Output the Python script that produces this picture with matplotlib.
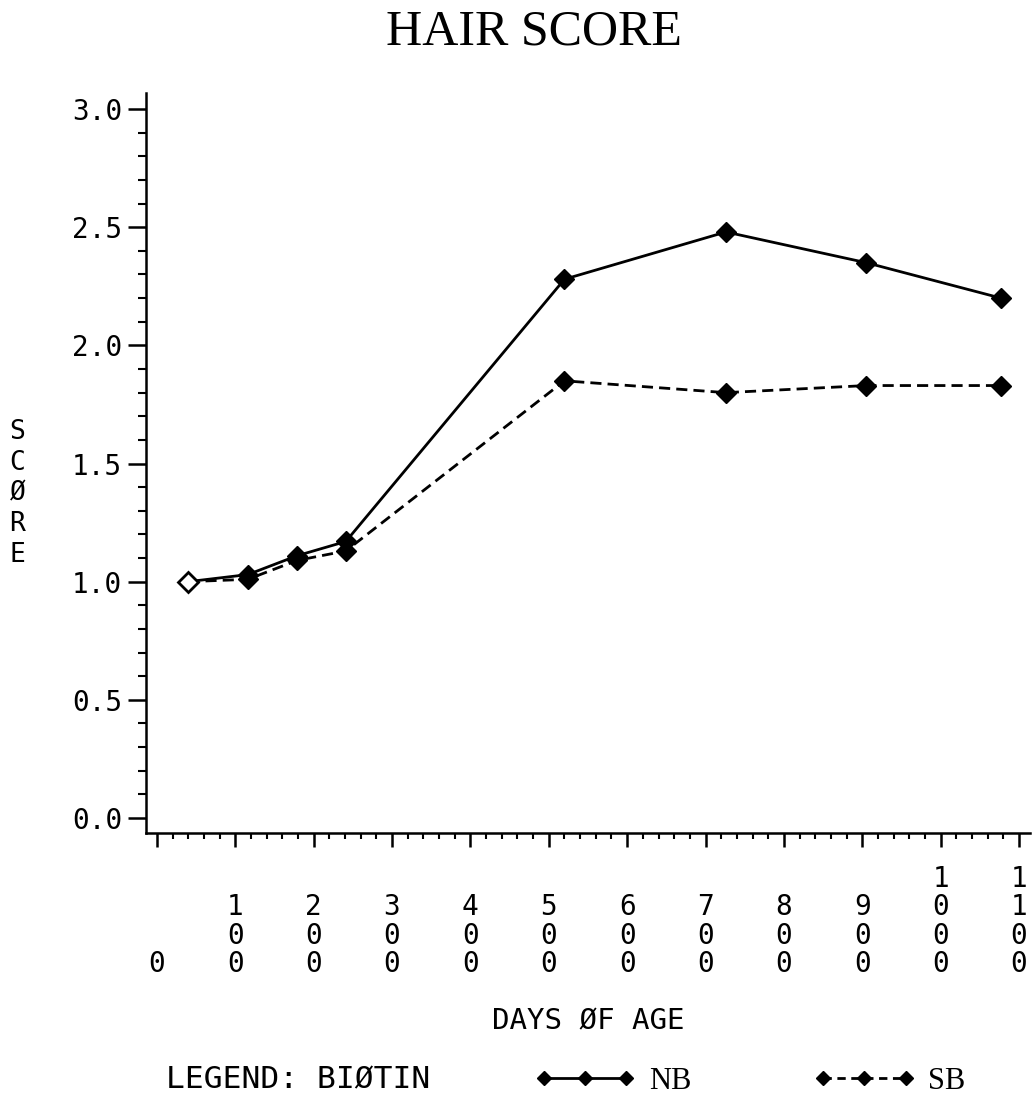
import matplotlib
matplotlib.use('Agg')
import matplotlib.pyplot as plt
from matplotlib.lines import Line2D
from matplotlib.ticker import MultipleLocator

# days of age and hair score
days = [40, 116, 179, 241, 520, 726, 905, 1077]
nb_score = [1.00, 1.03, 1.11, 1.17, 2.28, 2.48, 2.35, 2.20]
sb_score = [1.00, 1.01, 1.09, 1.13, 1.85, 1.80, 1.83, 1.83]

x_ticks = list(range(0, 1200, 100))
y_ticks = [0.0, 0.5, 1.0, 1.5, 2.0, 2.5, 3.0]

mono = 'DejaVu Sans Mono'
serif = 'Liberation Serif'


def stacked(v):
    # plotter style: one digit per line, bottom aligned
    s = str(v)
    return '\n' * (4 - len(s)) + '\n'.join(s)


fig = plt.figure(figsize=(10.33, 10.97), dpi=100)
ax = fig.add_axes([0.1413, 0.2407, 0.9971 - 0.1413, 0.9152 - 0.2407])

ax.plot(days, nb_score, color='black', lw=2.0, marker='D', ms=10, zorder=3)
ax.plot(days, sb_score, color='black', lw=2.0, ls=(0, (4, 2.2)), marker='D', ms=10, zorder=3)
# first point is drawn open in the original
ax.plot(days[:1], nb_score[:1], ls='none', marker='D', ms=10, mfc='white', mec='black', mew=2, zorder=4)

ax.set_xlim(-14, 1114)
ax.set_ylim(-0.0635, 3.068)

for s in ['top', 'right']:
    ax.spines[s].set_visible(False)
for s in ['left', 'bottom']:
    ax.spines[s].set_linewidth(1.8)

ax.set_xticks(x_ticks)
ax.set_xticklabels([stacked(v) for v in x_ticks], fontfamily=mono, fontsize=20, linespacing=1.02)
ax.xaxis.set_minor_locator(MultipleLocator(20))
ax.set_yticks(y_ticks)
ax.set_yticklabels(['%.1f' % v for v in y_ticks], fontfamily=mono, fontsize=20)
ax.yaxis.set_minor_locator(MultipleLocator(0.1))

ax.tick_params(axis='x', which='major', direction='out', length=10, width=1.8, pad=13)
ax.tick_params(axis='x', which='minor', direction='out', length=4.5, width=1.5)
ax.tick_params(axis='y', which='major', direction='out', length=13, width=1.8, pad=4)
ax.tick_params(axis='y', which='minor', direction='out', length=6, width=1.5)

fig.text(0.517, 0.971, 'HAIR SCORE', family=serif, fontsize=36, ha='center', va='center')
fig.text(0.017, 0.55, 'S\nC\nØ\nR\nE', family=mono, fontsize=19, ha='center', va='center', linespacing=1.23)
fig.text(0.569, 0.0685, 'DAYS ØF AGE', family=mono, fontsize=21, ha='center', va='center')
fig.text(0.161, 0.0155, 'LEGEND: BIØTIN', family=mono, fontsize=22.5, ha='left', va='center')

handles = [Line2D([], [], color='black', lw=2, marker='D', ms=7),
           Line2D([], [], color='black', lw=2, ls=(0, (3, 2)), marker='D', ms=7)]
fig.legend(handles, ['NB', 'SB'], loc='center left', bbox_to_anchor=(0.491, 0.0145), ncol=2,
           numpoints=3, frameon=False, handlelength=3.3, handletextpad=0.45, columnspacing=4.0,
           prop={'family': serif, 'size': 22})

fig.savefig('out.png', dpi=100)
